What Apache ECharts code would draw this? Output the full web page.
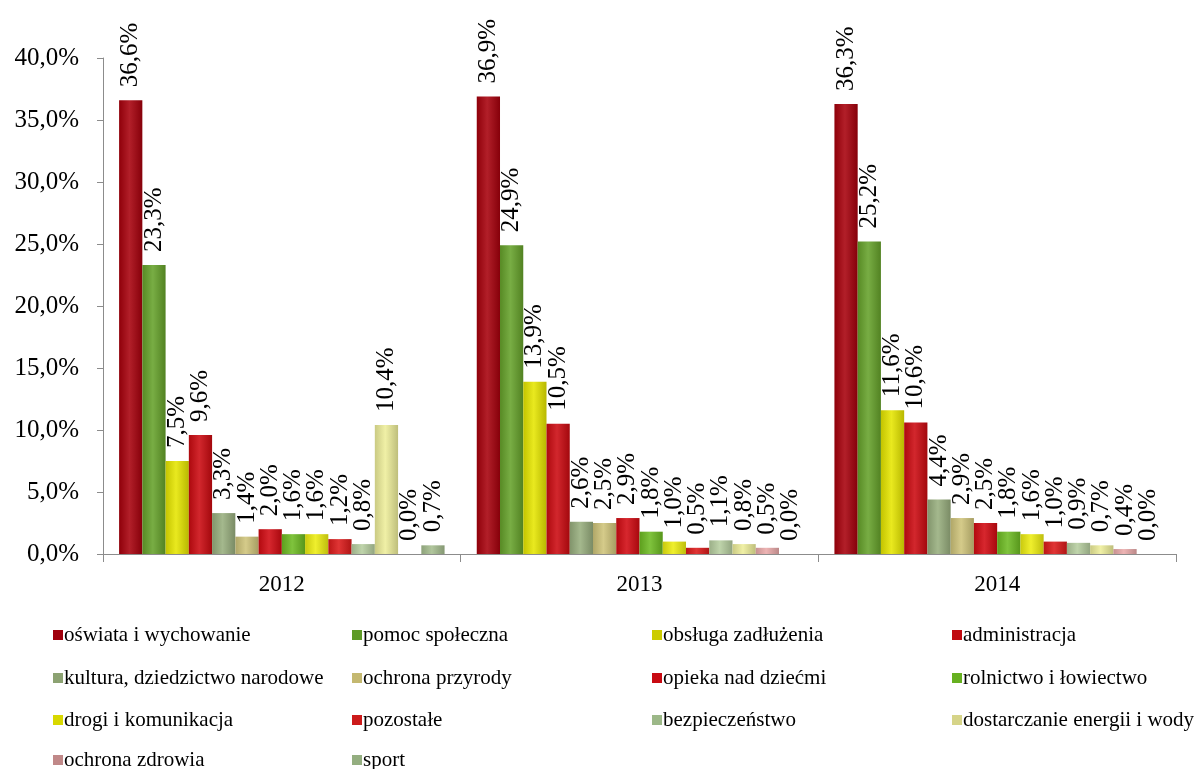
<!DOCTYPE html>
<html><head><meta charset="utf-8">
<script src="https://cdn.jsdelivr.net/npm/echarts@6/dist/echarts.min.js"></script>
<style>html,body{margin:0;padding:0;background:#fff}#c{width:1203px;height:769px}</style>
</head><body><div id="c"></div>
<script>
var categories = ['2012','2013','2014'];
var seriesNames = ['oświata i wychowanie','pomoc społeczna','obsługa zadłużenia','administracja',
  'kultura, dziedzictwo narodowe','ochrona przyrody','opieka nad dziećmi','rolnictwo i łowiectwo',
  'drogi i komunikacja','pozostałe','bezpieczeństwo','dostarczanie energii i wody','ochrona zdrowia','sport'];
var oswiata = [36.6, 36.9, 36.3];
var pomoc = [23.3, 24.9, 25.2];
var obsluga = [7.5, 13.9, 11.6];
var administracja = [9.6, 10.5, 10.6];
var kultura = [3.3, 2.6, 4.4];
var przyroda = [1.4, 2.5, 2.9];
var opieka = [2.0, 2.9, 2.5];
var rolnictwo = [1.6, 1.8, 1.8];
var drogi = [1.6, 1.0, 1.6];
var pozostale = [1.2, 0.5, 1.0];
var bezpieczenstwo = [0.8, 1.1, 0.9];
var dostarczanie = [10.4, 0.8, 0.7];
var zdrowie = [0.0, 0.5, 0.4];
var sport = [0.7, 0.0, 0.0];
var yTicks = [0, 5, 10, 15, 20, 25, 30, 35, 40];

var values = [oswiata,pomoc,obsluga,administracja,kultura,przyroda,opieka,rolnictwo,drogi,pozostale,bezpieczenstwo,dostarczanie,zdrowie,sport];
var colors = ['#A8000C','#66A22A','#E6E600','#CC0A10','#98AE7E','#CFC47A','#D20A12','#6DBB22','#EDED10','#DC1A1A','#B6CEA0','#EEEE9A','#EAAAAA','#A6BE90'];
var legendColors = ['#A0000C','#5E9A26','#CCCC00','#C00A10','#8CA272','#C4B870','#C80A12','#66B020','#D8D800','#CC1A1A','#9CB888','#D6D488','#C08888','#94AE80'];

function shade(hex, f){
  var r=parseInt(hex.substr(1,2),16),g=parseInt(hex.substr(3,2),16),b=parseInt(hex.substr(5,2),16);
  function c(v){v=f<0?v*(1+f):v+(255-v)*f;return Math.max(0,Math.min(255,Math.round(v)));}
  return 'rgb('+c(r)+','+c(g)+','+c(b)+')';
}
function grad(hex){
  return new echarts.graphic.LinearGradient(0,0,1,0,[
    {offset:0,color:shade(hex,-0.15)},{offset:0.45,color:shade(hex,0.12)},{offset:1,color:shade(hex,-0.2)}]);
}
var font = 'Liberation Serif';
var series = seriesNames.map(function(n,i){
  return {
    name:n, type:'bar', data:values[i], barGap:'0%', barCategoryGap:'9%',
    itemStyle:{color:grad(colors[i])},
    label:{show:true, position:'top', rotate:90, align:'left', verticalAlign:'middle', distance:13,
      fontFamily:font, fontSize:25, color:'#000',
      formatter:function(p){return p.value.toFixed(1).replace('.',',')+'%';}}
  };
});
var layout = [[0,4,8,12],[1,5,9,13],[2,6,10],[3,7,11]];
var colX = [53, 352, 652, 952];
var rowY = [635, 678, 720, 760];
var legends = [];
layout.forEach(function(idx,k){
  idx.forEach(function(i,r){
    legends.push({left:colX[k], top:rowY[r]-12, padding:0, itemWidth:10, itemHeight:10, itemGap:0,
      icon:'rect', selectedMode:false,
      data:[{name:seriesNames[i], itemStyle:{color:legendColors[i]}}],
      textStyle:{fontFamily:font, fontSize:21, color:'#000', padding:[0,0,0,-4], lineHeight:24}});
  });
});
var chart = echarts.init(document.getElementById('c'));
chart.setOption({
  animation:false,
  color:colors,
  grid:{left:103, right:27, top:58, bottom:215},
  legend:legends,
  xAxis:{type:'category', data:categories,
    axisLine:{lineStyle:{color:'#8c8c8c'}},
    axisTick:{show:true, length:8, lineStyle:{color:'#8c8c8c'}},
    axisLabel:{fontFamily:font, fontSize:23, color:'#000', margin:19}},
  yAxis:{type:'value', min:0, max:40, interval:5,
    axisLine:{show:true, lineStyle:{color:'#8c8c8c'}},
    axisTick:{show:true, length:6, lineStyle:{color:'#8c8c8c'}},
    splitLine:{show:false},
    axisLabel:{fontFamily:font, fontSize:25, color:'#000', margin:24,
      formatter:function(v){return yTicks.indexOf(v)>=0 ? v.toFixed(1).replace('.',',')+'%' : '';}}},
  series:series
});
</script></body></html>
